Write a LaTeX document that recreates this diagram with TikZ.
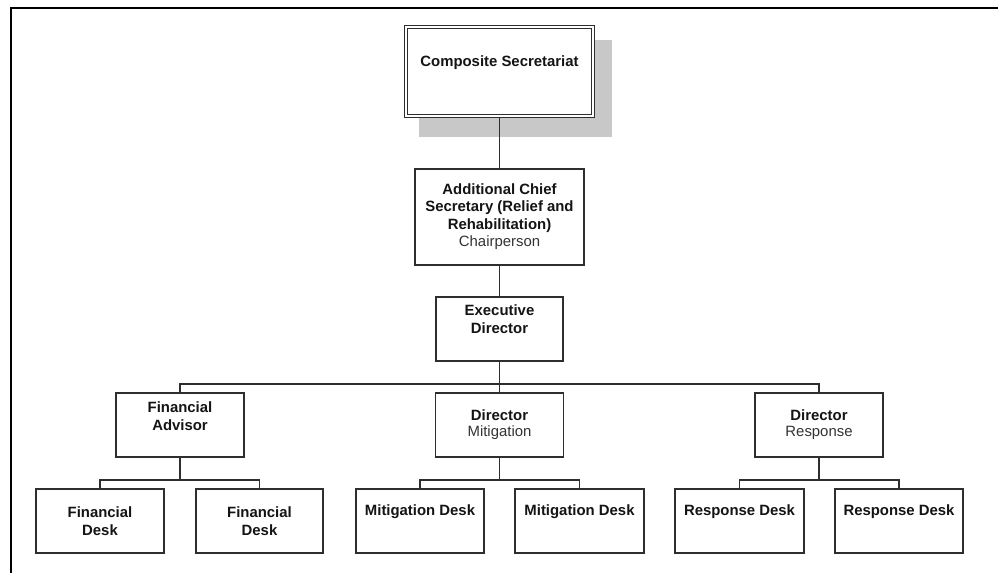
\documentclass[tikz,border=0pt]{standalone}
\usepackage{fontspec}
\setmainfont{Liberation Sans}
\usetikzlibrary{calc}
\definecolor{linecol}{HTML}{2E2E2E}
\definecolor{txtcol}{HTML}{141414}
\definecolor{subcol}{HTML}{333333}
\definecolor{shadowcol}{HTML}{C8C8C8}
\begin{document}
\begin{tikzpicture}[x=1pt,y=-1pt,
  box/.style={draw=linecol, line width=1.7pt, fill=white, inner sep=0pt},
  conn/.style={draw=linecol, line width=1.6pt},
  lbl/.style={text=txtcol, align=center, inner sep=0pt,
    font=\fontsize{14.9}{17.7}\selectfont\bfseries},
  sub/.style={text=subcol, font=\fontsize{14.9}{17.7}\selectfont}]
\useasboundingbox (0,0) rectangle (998,573);

% frame lines along the top and left edges
\draw[line width=2.8pt, black] (998,8) -- (11,8) -- (11,573);

% top box with drop shadow and double border
\fill[shadowcol] (419,40) rectangle (612,137);
\node[box, double=white, double distance=1.6pt, line width=1.5pt,
      minimum width=187pt, minimum height=89pt] (top) at (499.5,71.5) {};
\node[lbl] (topt) at (499.5,63) {Composite Secretariat};

% chairperson
\node[box, minimum width=169pt, minimum height=96pt] (acs) at (499.5,217) {};
\node[lbl] (acst) at (499.5,208) {Additional Chief\\Secretary (Relief and\\Rehabilitation)};
\node[sub, inner sep=0pt] (acss) at (499.5,243) {Chairperson};

% executive director
\node[box, minimum width=127pt, minimum height=64pt] (exec) at (499.5,329) {};
\node[lbl] (exect) at (499.5,319.5) {Executive\\Director};

% second level
\node[box, minimum width=128pt, minimum height=64pt] (fa) at (180,425) {};
\node[lbl] (fat) at (180,416) {Financial\\Advisor};
\node[box, minimum width=128pt, minimum height=64pt] (dm) at (499.5,425) {};
\node[lbl] (dmt) at (499.5,415) {Director};
\node[sub, inner sep=0pt] (dms) at (499.5,433) {Mitigation};
\node[box, minimum width=128pt, minimum height=64pt] (dr) at (819,425) {};
\node[lbl] (drt) at (819,415) {Director};
\node[sub, inner sep=0pt] (drs) at (819,433) {Response};

% desks
\node[box, minimum width=128pt, minimum height=64pt] (fd1) at (100,521) {};
\node[lbl] (fd1t) at (100,521) {Financial\\Desk};
\node[box, minimum width=127pt, minimum height=64pt] (fd2) at (259.5,521) {};
\node[lbl] (fd2t) at (259.5,521) {Financial\\Desk};
\node[box, minimum width=128pt, minimum height=64pt] (md1) at (420,521) {};
\node[lbl] (md1t) at (420,512) {Mitigation Desk};
\node[box, minimum width=129pt, minimum height=64pt] (md2) at (579.5,521) {};
\node[lbl] (md2t) at (579.5,512) {Mitigation Desk};
\node[box, minimum width=129pt, minimum height=64pt] (rd1) at (739.5,521) {};
\node[lbl] (rd1t) at (739.5,512) {Response Desk};
\node[box, minimum width=128pt, minimum height=64pt] (rd2) at (899,521) {};
\node[lbl] (rd2t) at (899,512) {Response Desk};

% connectors
\draw[conn] (top.south) -- (acs.north);
\draw[conn] (acs.south) -- (exec.north);
\draw[conn] (exec.south) -- (dm.north);
\draw[conn] (fa.north) -- ++(0,-8) -| (dr.north);

\draw[conn] (fd1.north) -- ++(0,-8) coordinate (fbus) -| (fd2.north);
\draw[conn] (fa.south) -- (fa.south |- fbus);
\draw[conn] (md1.north) -- ++(0,-8) coordinate (mbus) -| (md2.north);
\draw[conn] (dm.south) -- (dm.south |- mbus);
\draw[conn] (rd1.north) -- ++(0,-8) coordinate (rbus) -| (rd2.north);
\draw[conn] (dr.south) -- (dr.south |- rbus);
\end{tikzpicture}
\end{document}
